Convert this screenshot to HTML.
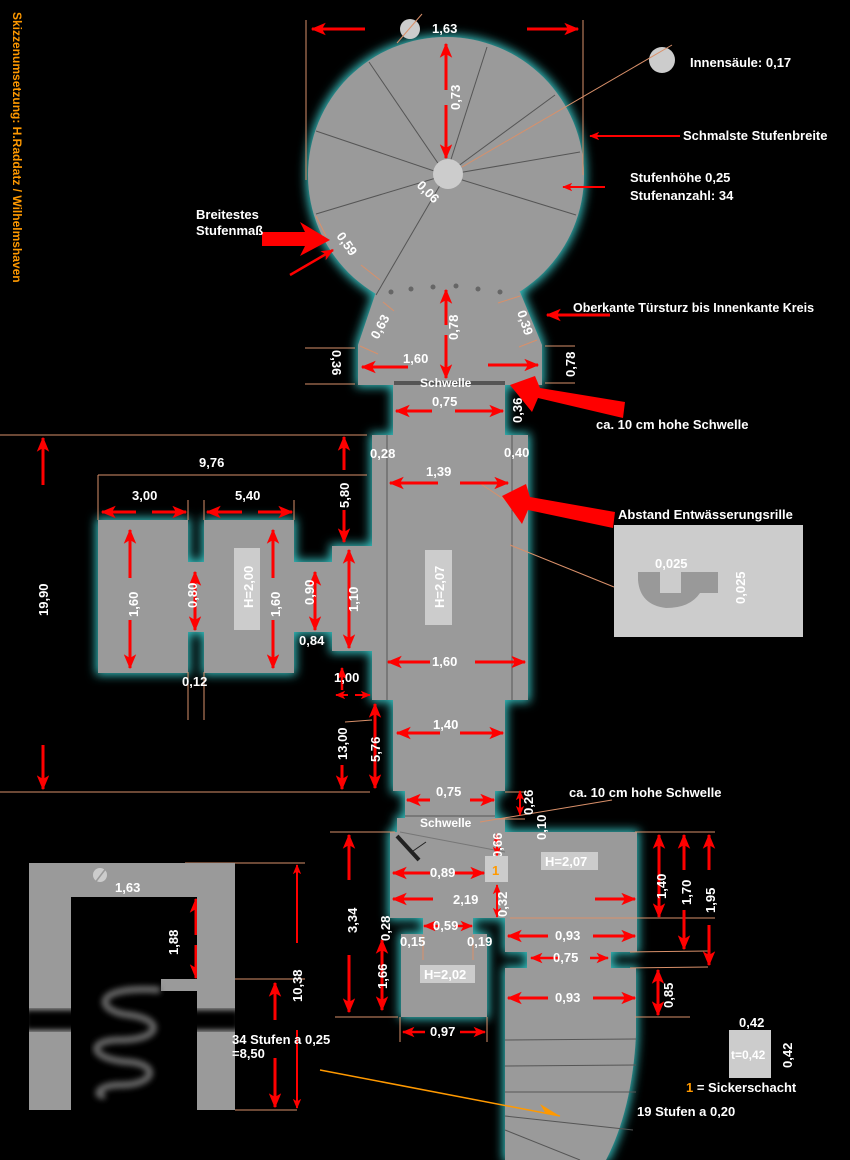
<!DOCTYPE html>
<html><head><meta charset="utf-8"><style>
html,body{margin:0;padding:0;background:#000;width:850px;height:1160px;overflow:hidden}
svg{display:block}
text{font-family:"Liberation Sans",sans-serif;font-weight:bold;fill:#fff;font-size:13px}
</style></head><body>
<svg width="850" height="1160" viewBox="0 0 850 1160" xmlns="http://www.w3.org/2000/svg">
<defs>
<filter id="g" x="-30%" y="-30%" width="160%" height="160%">
<feMorphology operator="dilate" radius="2" in="SourceAlpha" result="d"/>
<feGaussianBlur in="d" stdDeviation="5" result="b"/>
<feFlood flood-color="#36c0c0"/>
<feComposite in2="b" operator="in" result="c"/>
<feMerge><feMergeNode in="c"/><feMergeNode in="SourceGraphic"/></feMerge>
</filter>
<filter id="bl"><feGaussianBlur stdDeviation="3"/></filter>
<marker id="a" viewBox="0 0 12 10" refX="11" refY="5" markerWidth="5" markerHeight="5" orient="auto-start-reverse" markerUnits="strokeWidth">
<path d="M0,0 L12,5 L0,10 L3,5 z" fill="#f00"/></marker>
</defs>

<text transform="translate(13,12) rotate(90)" style="fill:#f90;font-size:12px">Skizzenumsetzung: H.Raddatz / Wilhelmshaven</text>

<!-- gray shapes -->
<g filter="url(#g)" fill="#9a9a9a">
<circle cx="446" cy="175" r="138"/>
<polygon points="376,292 520,292 542,345 358,345"/>
<rect x="358" y="345" width="184" height="40"/>
<rect x="393" y="384" width="112" height="55"/>
<rect x="372" y="435" width="156" height="265"/>
<rect x="393" y="698" width="112" height="93"/>
<rect x="405" y="789" width="90" height="31"/>
<rect x="397" y="818" width="108" height="16"/>
<rect x="98" y="520" width="90" height="153"/>
<rect x="186" y="562" width="20" height="70"/>
<rect x="204" y="520" width="90" height="153"/>
<rect x="292" y="562" width="42" height="70"/>
<rect x="332" y="546" width="42" height="105"/>
<rect x="390" y="832" width="115" height="86"/>
<rect x="505" y="832" width="132" height="120"/>
<rect x="423" y="916" width="50" height="20"/>
<rect x="401" y="934" width="86" height="83"/>
<rect x="527" y="950" width="84" height="20"/>
<path d="M505,968 L636,968 L636,1035 Q632,1110 606,1160 L505,1160 Z"/>
</g>

<!-- inner lines -->
<g stroke="#555" stroke-width="1" fill="none">
<line x1="446" y1="175" x2="369" y2="62"/><line x1="446" y1="175" x2="487" y2="47"/>
<line x1="446" y1="175" x2="555" y2="95"/><line x1="446" y1="175" x2="580" y2="152"/>
<line x1="446" y1="175" x2="576" y2="215"/><line x1="446" y1="175" x2="316" y2="214"/>
<line x1="446" y1="175" x2="316" y2="131"/><line x1="446" y1="175" x2="376" y2="295"/>
<line x1="387" y1="435" x2="387" y2="700"/><line x1="512" y1="435" x2="512" y2="700"/>
<line x1="405" y1="816" x2="495" y2="816"/>
<line x1="505" y1="1040" x2="636" y2="1039"/><line x1="505" y1="1066" x2="636" y2="1065"/>
<line x1="505" y1="1092" x2="636" y2="1092"/><line x1="505" y1="1116" x2="633" y2="1130"/>
<line x1="505" y1="1130" x2="580" y2="1160"/>
<line x1="400" y1="832" x2="505" y2="852" stroke="#777"/>
</g>
<rect x="394" y="381" width="111" height="4" fill="#555"/>
<line x1="397" y1="836" x2="419" y2="860" stroke="#222" stroke-width="4"/>
<line x1="413" y1="851" x2="426" y2="842" stroke="#222" stroke-width="1"/>

<!-- dots -->
<g fill="#666"><circle cx="391" cy="292" r="2.5"/><circle cx="411" cy="289" r="2.5"/><circle cx="433" cy="287" r="2.5"/><circle cx="456" cy="286" r="2.5"/><circle cx="478" cy="289" r="2.5"/><circle cx="500" cy="292" r="2.5"/></g>

<!-- pillars -->
<circle cx="448" cy="174" r="15" fill="#ccc"/>
<circle cx="410" cy="29" r="10" fill="#ccc"/>
<circle cx="662" cy="60" r="13" fill="#ccc"/>

<!-- tan lines -->
<g stroke="#d9906a" stroke-width="1" fill="none">
<line x1="306" y1="20" x2="306" y2="180"/><line x1="583" y1="20" x2="583" y2="175"/>
<line x1="398" y1="18" x2="398" y2="18"/><line x1="397" y1="43" x2="422" y2="14"/>
<line x1="462" y1="167" x2="672" y2="45"/>
<line x1="316" y1="216" x2="326" y2="236"/><line x1="361" y1="265" x2="380" y2="280"/>
<line x1="383" y1="302" x2="394" y2="311"/><line x1="360" y1="346" x2="378" y2="354"/>
<line x1="498" y1="303" x2="520" y2="296"/><line x1="519" y1="347" x2="537" y2="340"/>
<line x1="305" y1="348" x2="355" y2="348"/><line x1="305" y1="384" x2="355" y2="384"/>
<line x1="545" y1="346" x2="575" y2="346"/><line x1="545" y1="383" x2="575" y2="383"/>
<line x1="0" y1="435" x2="367" y2="435"/><line x1="0" y1="792" x2="370" y2="792"/>
<line x1="98" y1="475" x2="367" y2="475"/><line x1="98" y1="475" x2="98" y2="520"/>
<line x1="188" y1="500" x2="188" y2="520"/><line x1="204" y1="500" x2="204" y2="520"/><line x1="294" y1="500" x2="294" y2="520"/>
<line x1="188" y1="672" x2="188" y2="720"/><line x1="204" y1="672" x2="204" y2="720"/>
<line x1="345" y1="722" x2="372" y2="720"/>
<line x1="478" y1="482" x2="517" y2="508"/><line x1="510" y1="545" x2="614" y2="587"/>
<line x1="505" y1="792" x2="527" y2="792"/><line x1="498" y1="819" x2="525" y2="819"/>
<line x1="480" y1="822" x2="612" y2="800"/>
<line x1="330" y1="832" x2="395" y2="832"/><line x1="335" y1="1017" x2="398" y2="1017"/>
<line x1="635" y1="832" x2="715" y2="832"/><line x1="510" y1="918" x2="715" y2="918"/>
<line x1="630" y1="952" x2="708" y2="951"/><line x1="630" y1="968" x2="708" y2="967"/>
<line x1="635" y1="1017" x2="690" y2="1017"/>
<line x1="400" y1="1017" x2="400" y2="1042"/><line x1="487" y1="1017" x2="487" y2="1042"/>
<line x1="423" y1="935" x2="423" y2="960"/><line x1="473" y1="935" x2="473" y2="960"/>
<line x1="185" y1="863" x2="305" y2="863"/><line x1="235" y1="979" x2="305" y2="979"/><line x1="235" y1="1110" x2="297" y2="1110"/>
</g>
<line x1="320" y1="1070" x2="560" y2="1116" stroke="#f90" stroke-width="1.5"/>
<polygon points="560,1116 540,1104 546,1114" fill="#f90"/>

<!-- red dim arrows -->
<g stroke="#f00" stroke-width="3" marker-end="url(#a)" fill="none">
<line x1="365" y1="29" x2="312" y2="29"/><line x1="527" y1="29" x2="578" y2="29"/>
<line x1="446" y1="90" x2="446" y2="44"/><line x1="446" y1="105" x2="446" y2="158"/>
<line x1="446" y1="325" x2="446" y2="290"/><line x1="446" y1="335" x2="446" y2="378"/>
<line x1="408" y1="367" x2="362" y2="367"/><line x1="488" y1="365" x2="538" y2="365"/>
<line x1="432" y1="411" x2="396" y2="411"/><line x1="455" y1="411" x2="503" y2="411"/>
<line x1="610" y1="315" x2="547" y2="315"/>
<line x1="680" y1="136" x2="590" y2="136" stroke-width="2"/>
<line x1="605" y1="187" x2="563" y2="187" stroke-width="2"/>
<line x1="290" y1="275" x2="333" y2="250" stroke-width="2.5"/>
<line x1="438" y1="483" x2="390" y2="483"/><line x1="460" y1="483" x2="508" y2="483"/>
<line x1="430" y1="662" x2="388" y2="662"/><line x1="475" y1="662" x2="525" y2="662"/>
<line x1="440" y1="733" x2="397" y2="733"/><line x1="460" y1="733" x2="503" y2="733"/>
<line x1="430" y1="800" x2="407" y2="800"/><line x1="470" y1="800" x2="494" y2="800"/>
<line x1="344" y1="470" x2="344" y2="437"/><line x1="344" y1="510" x2="344" y2="542"/>
<line x1="43" y1="485" x2="43" y2="438"/><line x1="43" y1="745" x2="43" y2="789"/>
<line x1="136" y1="512" x2="102" y2="512"/><line x1="152" y1="512" x2="186" y2="512"/>
<line x1="242" y1="512" x2="207" y2="512"/><line x1="258" y1="512" x2="292" y2="512"/>
<line x1="130" y1="578" x2="130" y2="530"/><line x1="130" y1="620" x2="130" y2="668"/>
<line x1="273" y1="578" x2="273" y2="530"/><line x1="273" y1="620" x2="273" y2="668"/>
<line x1="195" y1="600" x2="195" y2="572"/><line x1="195" y1="600" x2="195" y2="630"/>
<line x1="315" y1="600" x2="315" y2="572"/><line x1="315" y1="600" x2="315" y2="630"/>
<line x1="349" y1="598" x2="349" y2="550"/><line x1="349" y1="598" x2="349" y2="648"/>
<line x1="342" y1="690" x2="342" y2="668" stroke-width="2.5"/><line x1="342" y1="765" x2="342" y2="789"/>
<line x1="348" y1="695" x2="336" y2="695" stroke-width="2"/><line x1="355" y1="695" x2="370" y2="695" stroke-width="2"/>
<line x1="375" y1="745" x2="375" y2="704"/><line x1="375" y1="745" x2="375" y2="788"/>
<line x1="520" y1="803" x2="520" y2="791" stroke-width="2"/><line x1="520" y1="803" x2="520" y2="815" stroke-width="2"/>
<line x1="349" y1="880" x2="349" y2="835"/><line x1="349" y1="955" x2="349" y2="1012"/>
<line x1="497" y1="845" x2="497" y2="834" stroke-width="2"/><line x1="497" y1="845" x2="497" y2="856" stroke-width="2"/>
<line x1="430" y1="873" x2="393" y2="873"/><line x1="453" y1="873" x2="484" y2="873"/>
<line x1="433" y1="899" x2="393" y2="899"/><line x1="595" y1="899" x2="635" y2="899"/>
<line x1="497" y1="900" x2="497" y2="885" stroke-width="2"/><line x1="497" y1="900" x2="497" y2="917" stroke-width="2"/>
<line x1="659" y1="875" x2="659" y2="835"/><line x1="659" y1="875" x2="659" y2="917"/>
<line x1="684" y1="870" x2="684" y2="835"/><line x1="684" y1="910" x2="684" y2="949"/>
<line x1="709" y1="870" x2="709" y2="835"/><line x1="709" y1="925" x2="709" y2="965"/>
<line x1="548" y1="936" x2="508" y2="936"/><line x1="593" y1="936" x2="635" y2="936"/>
<line x1="560" y1="958" x2="531" y2="958" stroke-width="2.5"/><line x1="590" y1="958" x2="608" y2="958" stroke-width="2.5"/>
<line x1="658" y1="993" x2="658" y2="970"/><line x1="658" y1="993" x2="658" y2="1015"/>
<line x1="548" y1="998" x2="508" y2="998"/><line x1="593" y1="998" x2="635" y2="998"/>
<line x1="440" y1="926" x2="424" y2="926" stroke-width="2.5"/><line x1="455" y1="926" x2="472" y2="926" stroke-width="2.5"/>
<line x1="382" y1="975" x2="382" y2="940"/><line x1="382" y1="975" x2="382" y2="1010"/>
<line x1="425" y1="1032" x2="403" y2="1032" stroke-width="2.5"/><line x1="460" y1="1032" x2="485" y2="1032" stroke-width="2.5"/>
<line x1="106" y1="888" x2="72" y2="888"/><line x1="162" y1="888" x2="197" y2="888"/>
<line x1="196" y1="935" x2="196" y2="899"/><line x1="196" y1="945" x2="196" y2="978"/>
<line x1="297" y1="943" x2="297" y2="865" stroke-width="2"/><line x1="297" y1="1030" x2="297" y2="1108" stroke-width="2"/>
<line x1="275" y1="1020" x2="275" y2="983"/><line x1="275" y1="1058" x2="275" y2="1107"/>
</g>
<!-- big arrows -->
<path d="M625,402 L540,388 L535,376 L510,385 L532,412 L538,398 L623,418 Z" fill="#f00"/>
<path d="M615,512 L530,497 L526,484 L502,496 L522,524 L528,510 L613,528 Z" fill="#f00"/>
<path d="M262,232 L305,232 L300,222 L330,240 L300,256 L305,246 L262,246 Z" fill="#f00"/>
<line x1="530" y1="386" x2="508" y2="380" stroke="#f00" stroke-width="0"/>

<!-- bottom-left sketch -->
<g fill="#9a9a9a">
<rect x="29" y="863" width="206" height="34"/>
<rect x="29" y="863" width="42" height="247"/>
<rect x="197" y="863" width="38" height="247"/>
<rect x="161" y="979" width="40" height="12"/>
</g>
<rect x="25" y="1010" width="214" height="20" fill="#000" filter="url(#bl)"/>
<rect x="75" y="1005" width="118" height="30" fill="#000"/>
<g filter="url(#bl)" stroke="#666" stroke-width="7" fill="none">
<path d="M160,990 C90,985 95,1012 130,1015 C165,1020 160,1040 120,1040 C85,1040 90,1060 130,1062 C160,1065 155,1085 120,1085 C95,1085 95,1098 105,1095"/>
</g>
<circle cx="100" cy="875" r="7" fill="#ccc"/><line x1="94" y1="884" x2="107" y2="867" stroke="#9a9a9a" stroke-width="1.5"/>

<!-- labels -->
<g>
<text x="432" y="33">1,63</text>
<text transform="translate(460,110) rotate(-90)">0,73</text>
<text transform="translate(416,186) rotate(45)">0,06</text>
<text transform="translate(336,236) rotate(55)">0,59</text>
<text transform="translate(458,340) rotate(-90)">0,78</text>
<text transform="translate(378,340) rotate(-62)">0,63</text>
<text transform="translate(517,312) rotate(72)">0,39</text>
<text x="403" y="363">1,60</text>
<text transform="translate(332,350) rotate(90)">0,36</text>
<text transform="translate(575,377) rotate(-90)">0,78</text>
<text x="420" y="387" style="font-size:12px">Schwelle</text>
<text x="432" y="406">0,75</text>
<text transform="translate(522,423) rotate(-90)">0,36</text>
<text x="690" y="67">Innensäule: 0,17</text>
<text x="683" y="140">Schmalste Stufenbreite</text>
<text x="630" y="182">Stufenhöhe 0,25</text>
<text x="630" y="200">Stufenanzahl: 34</text>
<text x="196" y="219">Breitestes</text>
<text x="196" y="235">Stufenmaß</text>
<text x="573" y="312" style="font-size:12.5px">Oberkante Türsturz bis Innenkante Kreis</text>
<text x="596" y="429">ca. 10 cm hohe Schwelle</text>
<text x="370" y="458">0,28</text>
<text x="504" y="457">0,40</text>
<text x="426" y="476">1,39</text>
<text x="618" y="519">Abstand Entwässerungsrille</text>
<text x="199" y="467">9,76</text>
<text x="132" y="500">3,00</text>
<text x="235" y="500">5,40</text>
<text transform="translate(349,508) rotate(-90)">5,80</text>
<text transform="translate(48,616) rotate(-90)">19,90</text>
<text transform="translate(138,617) rotate(-90)">1,60</text>
<text transform="translate(280,617) rotate(-90)">1,60</text>
<text transform="translate(197,608) rotate(-90)">0,80</text>
<text transform="translate(314,605) rotate(-90)">0,90</text>
<text transform="translate(358,612) rotate(-90)">1,10</text>
<text x="299" y="645">0,84</text>
<text x="182" y="686">0,12</text>
<text x="334" y="682">1,00</text>
<text transform="translate(347,760) rotate(-90)">13,00</text>
<text transform="translate(380,762) rotate(-90)">5,76</text>
<text x="432" y="666">1,60</text>
<text x="433" y="729">1,40</text>
<text x="436" y="796">0,75</text>
<text transform="translate(533,815) rotate(-90)">0,26</text>
<text transform="translate(546,840) rotate(-90)">0,10</text>
<text x="569" y="797">ca. 10 cm hohe Schwelle</text>
<text x="420" y="827" style="font-size:12px">Schwelle</text>
</g>
<rect x="425" y="550" width="27" height="75" fill="#ccc"/>
<text transform="translate(444,608) rotate(-90)">H=2,07</text>
<rect x="234" y="548" width="26" height="82" fill="#ccc"/>
<text transform="translate(253,608) rotate(-90)">H=2,00</text>

<rect x="614" y="525" width="189" height="112" fill="#ccc"/>
<path d="M638,572 L660,572 L660,593 L681,593 L681,572 L718,572 L718,593 L700,593 Q690,608 666,608 Q640,605 638,580 Z" fill="#999"/>
<text x="655" y="568">0,025</text>
<text transform="translate(745,604) rotate(-90)">0,025</text>

<!-- lower labels -->
<g>
<text transform="translate(502,858) rotate(-90)">0,66</text>
<text x="430" y="877">0,89</text>
<text x="453" y="904">2,19</text>
<text transform="translate(507,917) rotate(-90)">0,32</text>
<text transform="translate(666,899) rotate(-90)">1,40</text>
<text transform="translate(691,905) rotate(-90)">1,70</text>
<text transform="translate(715,913) rotate(-90)">1,95</text>
<text transform="translate(357,933) rotate(-90)">3,34</text>
<text transform="translate(390,941) rotate(-90)">0,28</text>
<text x="433" y="930">0,59</text>
<text x="400" y="946">0,15</text>
<text x="467" y="946">0,19</text>
<text x="555" y="940">0,93</text>
<text x="553" y="962">0,75</text>
<text x="555" y="1002">0,93</text>
<text transform="translate(673,1008) rotate(-90)">0,85</text>
<text transform="translate(387,989) rotate(-90)">1,66</text>
<text x="430" y="1036">0,97</text>
<text x="637" y="1116">19 Stufen a 0,20</text>
<text x="739" y="1027">0,42</text>
<text transform="translate(792,1068) rotate(-90)">0,42</text>
<text x="686" y="1092"><tspan style="fill:#f90">1</tspan> = Sickerschacht</text>
<text x="115" y="892">1,63</text>
<text transform="translate(178,955) rotate(-90)">1,88</text>
<text transform="translate(302,1002) rotate(-90)">10,38</text>
<text x="232" y="1044">34 Stufen a 0,25</text>
<text x="232" y="1058">=8,50</text>
</g>
<rect x="485" y="856" width="23" height="26" fill="#ccc"/>
<text x="492" y="875" style="fill:#f90">1</text>
<rect x="541" y="852" width="57" height="18" fill="#ccc"/>
<text x="545" y="866">H=2,07</text>
<rect x="420" y="965" width="55" height="18" fill="#ccc"/>
<text x="424" y="979">H=2,02</text>
<rect x="729" y="1030" width="42" height="48" fill="#ccc"/>
<text x="731" y="1059" style="font-size:12px">t=0,42</text>
</svg>
</body></html>
